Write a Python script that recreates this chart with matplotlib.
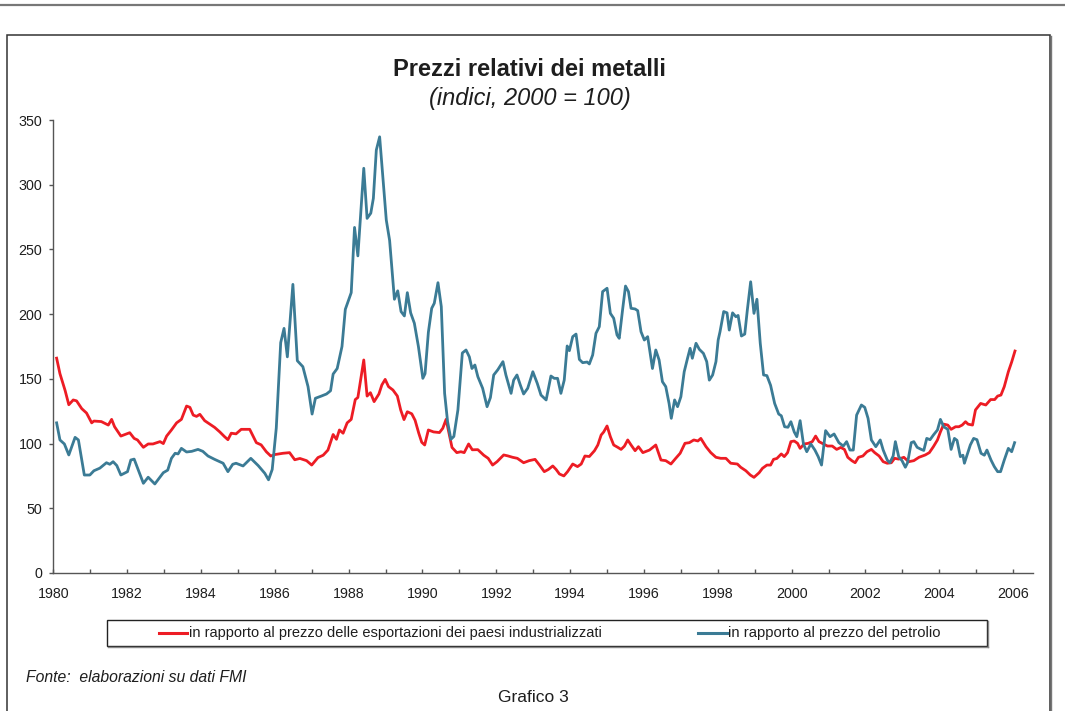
import matplotlib
matplotlib.use("Agg")
import matplotlib.pyplot as plt
from matplotlib.patches import Rectangle
from matplotlib.lines import Line2D
import numpy as np

# ---------------- data (decimal years, index 2000 = 100) ----------------
red_years = [1980.09, 1980.18, 1980.32, 1980.42, 1980.54, 1980.63, 1980.77, 1980.9, 1981.04, 1981.1,
             1981.3, 1981.49, 1981.58, 1981.66, 1981.83, 1982.07, 1982.19, 1982.28, 1982.44, 1982.57,
             1982.7, 1982.89, 1982.98, 1983.07, 1983.2, 1983.34, 1983.47, 1983.61, 1983.7, 1983.79,
             1983.88, 1983.97, 1984.1, 1984.24, 1984.37, 1984.51, 1984.64, 1984.73, 1984.82, 1984.95,
             1985.09, 1985.32, 1985.5, 1985.63, 1985.77, 1985.89, 1986.0, 1986.22, 1986.4, 1986.54,
             1986.68, 1986.86, 1987.0, 1987.17, 1987.31, 1987.44, 1987.58, 1987.67, 1987.75, 1987.85,
             1987.96, 1988.07, 1988.18, 1988.25, 1988.41, 1988.5, 1988.59, 1988.69, 1988.82, 1988.9,
             1988.99, 1989.08, 1989.2, 1989.32, 1989.41, 1989.5, 1989.59, 1989.71, 1989.8, 1989.9,
             1989.98, 1990.06, 1990.16, 1990.3, 1990.46, 1990.55, 1990.64, 1990.72, 1990.8, 1990.93,
             1991.04, 1991.13, 1991.25, 1991.35, 1991.5, 1991.66, 1991.78, 1991.9, 1992.02, 1992.2,
             1992.31, 1992.44, 1992.57, 1992.74, 1992.89, 1993.05, 1993.17, 1993.3, 1993.41, 1993.53,
             1993.62, 1993.71, 1993.83, 1993.93, 1994.07, 1994.2, 1994.3, 1994.4, 1994.52, 1994.66,
             1994.75, 1994.84, 1994.91, 1995.0, 1995.09, 1995.18, 1995.29, 1995.38, 1995.47, 1995.56,
             1995.65, 1995.76, 1995.85, 1995.97, 1996.15, 1996.32, 1996.46, 1996.59, 1996.73, 1996.86,
             1996.98, 1997.11, 1997.23, 1997.35, 1997.46, 1997.54, 1997.68, 1997.81, 1997.95, 1998.08,
             1998.22, 1998.35, 1998.53, 1998.62, 1998.76, 1998.88, 1998.98, 1999.12, 1999.21, 1999.33,
             1999.43, 1999.51, 1999.6, 1999.72, 1999.8, 1999.89, 1999.98, 2000.07, 2000.16, 2000.23,
             2000.34, 2000.45, 2000.56, 2000.65, 2000.74, 2000.86, 2000.97, 2001.1, 2001.22, 2001.33,
             2001.43, 2001.52, 2001.63, 2001.72, 2001.81, 2001.93, 2002.04, 2002.16, 2002.25, 2002.37,
             2002.48, 2002.59, 2002.7, 2002.79, 2002.9, 2003.04, 2003.17, 2003.31, 2003.45, 2003.62,
             2003.73, 2003.84, 2003.95, 2004.03, 2004.12, 2004.23, 2004.32, 2004.44, 2004.53, 2004.62,
             2004.71, 2004.78, 2004.9, 2004.98, 2005.12, 2005.26, 2005.39, 2005.5, 2005.58, 2005.67,
             2005.76, 2005.87, 2005.96, 2006.05]
red_values = [166, 154, 141, 130, 133.7, 133, 127, 123.6, 116, 117.4,
              117, 114.3, 118.7, 113, 105.8, 108.4, 104, 102.8, 97.1, 99.7,
              99.7, 101.5, 100, 105.8, 110.5, 116, 118.7, 129, 128, 122,
              121, 122.6, 117.7, 115, 112.5, 109, 105.3, 103, 108, 107.5,
              111, 111, 100.7, 99, 93.7, 90.4, 91.5, 92.5, 93, 87.5,
              88.5, 86.8, 83.4, 89.2, 91, 95, 107, 103.3, 110.5, 108,
              116, 118.7, 134, 135.6, 164.6, 136.7, 139.3, 132.4, 138.3, 145.3,
              149.6, 144, 141.4, 136.7, 126, 118.5, 124.6, 123, 118, 108,
              101, 98.9, 110.5, 109, 108.5, 111.8, 118.7, 108, 97, 93,
              93.7, 93, 99.7, 95.2, 95.3, 91, 88.6, 83.4, 86, 91.2,
              90.5, 89.4, 88.6, 85.2, 86.8, 87.8, 83.4, 78.3, 80, 82.7,
              80, 76.5, 75, 78.3, 84.2, 82.2, 84.2, 90.4, 90, 94.5,
              98.9, 106.6, 109, 113.6, 105.3, 98.9, 97.1, 95.5, 98, 102.8,
              98.9, 94.5, 97.6, 93, 95, 98.9, 87.3, 86.8, 84.2, 88.6,
              92.5, 100.2, 100.7, 102.8, 102, 104, 97.6, 93, 89.4, 88.6,
              88.6, 84.8, 84.2, 81.7, 79, 75.7, 73.9, 77.5, 80.9, 83.4,
              83.4, 87.8, 88.5, 92, 89.9, 93, 101.5, 102, 100.2, 96.3,
              99.7, 100.2, 101.5, 105.8, 101.5, 99.7, 98.1, 98.1, 95.5, 97,
              95.5, 89.4, 86.8, 85.2, 89.4, 90.4, 93.7, 95.5, 93, 90.4,
              86, 84.8, 85.2, 88.6, 88, 89.4, 86, 86.8, 89.4, 91.2,
              93, 97.6, 102.8, 109, 115, 114.3, 111, 113, 113, 114.3,
              116.9, 115, 114.3, 126, 131, 129.8, 134, 134, 136.7, 137.5,
              144, 155.5, 163, 171.5]

blue_years = [1980.09, 1980.18, 1980.3, 1980.42, 1980.59, 1980.68, 1980.84, 1980.99, 1981.1, 1981.26,
              1981.44, 1981.53, 1981.62, 1981.72, 1981.83, 1982.01, 1982.1, 1982.19, 1982.44, 1982.57,
              1982.75, 1982.98, 1983.1, 1983.2, 1983.3, 1983.38, 1983.47, 1983.61, 1983.75, 1983.92,
              1984.05, 1984.19, 1984.37, 1984.6, 1984.73, 1984.86, 1984.95, 1985.14, 1985.35, 1985.55,
              1985.73, 1985.83, 1985.93, 1986.04, 1986.16, 1986.25, 1986.34, 1986.49, 1986.61, 1986.76,
              1986.9, 1987.01, 1987.1, 1987.26, 1987.4, 1987.51, 1987.58, 1987.69, 1987.82, 1987.91,
              1988.07, 1988.16, 1988.25, 1988.41, 1988.5, 1988.6, 1988.67, 1988.75, 1988.84, 1989.02,
              1989.11, 1989.24, 1989.33, 1989.42, 1989.51, 1989.59, 1989.68, 1989.78, 1989.89, 1990.01,
              1990.07, 1990.16, 1990.25, 1990.32, 1990.42, 1990.51, 1990.6, 1990.68, 1990.77, 1990.85,
              1990.96, 1991.08, 1991.18, 1991.27, 1991.34, 1991.42, 1991.5, 1991.63, 1991.75, 1991.84,
              1991.93, 1992.04, 1992.18, 1992.26, 1992.4, 1992.47, 1992.56, 1992.65, 1992.74, 1992.85,
              1992.99, 1993.11, 1993.21, 1993.35, 1993.48, 1993.57, 1993.66, 1993.75, 1993.84, 1993.92,
              1993.98, 1994.07, 1994.16, 1994.25, 1994.34, 1994.46, 1994.52, 1994.61, 1994.7, 1994.79,
              1994.88, 1995.0, 1995.09, 1995.18, 1995.27, 1995.33, 1995.42, 1995.5, 1995.58, 1995.65,
              1995.76, 1995.83, 1995.92, 1996.01, 1996.1, 1996.23, 1996.32, 1996.41, 1996.5, 1996.59,
              1996.68, 1996.74, 1996.83, 1996.91, 1997.0, 1997.09, 1997.18, 1997.25, 1997.31, 1997.41,
              1997.5, 1997.61, 1997.7, 1997.77, 1997.86, 1997.95, 1998.01, 1998.06, 1998.16, 1998.25,
              1998.31, 1998.4, 1998.49, 1998.55, 1998.64, 1998.73, 1998.8, 1998.89, 1998.98, 1999.06,
              1999.15, 1999.24, 1999.33, 1999.43, 1999.54, 1999.65, 1999.72, 1999.81, 1999.9, 1999.98,
              2000.07, 2000.14, 2000.23, 2000.32, 2000.41, 2000.52, 2000.63, 2000.72, 2000.81, 2000.92,
              2001.04, 2001.15, 2001.28, 2001.4, 2001.49, 2001.58, 2001.67, 2001.76, 2001.89, 2001.98,
              2002.07, 2002.16, 2002.28, 2002.4, 2002.48, 2002.59, 2002.66, 2002.75, 2002.81, 2002.9,
              2002.99, 2003.08, 2003.14, 2003.24, 2003.31, 2003.4, 2003.51, 2003.58, 2003.66, 2003.75,
              2003.84, 2003.95, 2004.03, 2004.12, 2004.23, 2004.32, 2004.41, 2004.48, 2004.57, 2004.64,
              2004.68, 2004.84, 2004.93, 2005.02, 2005.13, 2005.22, 2005.29, 2005.4, 2005.49, 2005.58,
              2005.66, 2005.76, 2005.87, 2005.96, 2006.04]
blue_values = [116, 102.8, 99.7, 91.2, 104.8, 102.8, 75.7, 75.7, 79, 81,
               85.2, 84, 86, 83, 75.7, 78.3, 87.3, 88, 69.3, 74,
               68.8, 77.5, 79.5, 88.6, 92.5, 92, 96.3, 93.5, 94, 95.5,
               94, 90.4, 87.8, 84.8, 78.3, 84, 84.8, 82.7, 88.6, 83,
               77, 72, 80, 112, 178, 189, 167, 223, 164, 159.4,
               144, 122.8, 135, 136.7, 138.3, 140.8, 153.7, 158, 175, 203.7,
               216.6, 267, 245, 312.7, 274, 278, 289.5, 326.8, 337, 272.7,
               257, 211.5, 218, 202, 198.6, 216.6, 201, 193, 175, 150.4,
               154, 186, 204.5, 208.4, 224.3, 205.8, 138.8, 117, 103.3, 105.5,
               126, 170, 172.3, 167, 158, 160.7, 151.7, 142.7, 128.5, 135.5,
               153, 157, 163.3, 153, 138.8, 149, 153, 145.3, 138.3, 142.7,
               155.5, 146.5, 137.5, 133.7, 152.2, 150.4, 150.4, 138.8, 149, 175.4,
               171.8, 182.6, 184.6, 165, 162.5, 163, 161.5, 168.4, 185.2, 190.3,
               217.4, 220, 200.6, 196.8, 183.9, 181.3, 203.2, 221.7, 217.4, 204.5,
               204, 202.7, 186.4, 180, 182.6, 158, 172.3, 164.6, 147.8, 144,
               131, 119.5, 133.7, 128.5, 136.2, 155.5, 165.9, 173.6, 165.9, 177.5,
               172.8, 169.7, 163.3, 149, 153, 163.3, 180, 186.4, 202, 201,
               187.7, 201, 198, 199, 183.1, 184.6, 203.2, 225, 200.6, 211.5,
               177.5, 153, 152.5, 145, 131, 122.8, 121.5, 113, 112.6, 116.9,
               109, 105.3, 117.7, 99.7, 93.7, 99.7, 95, 89.9, 83.4, 110,
               105.3, 107.4, 100.7, 98.1, 101.5, 95, 95, 122, 129.8, 128,
               119.5, 102.8, 97.6, 102.8, 95, 87.3, 85.2, 90.4, 101.5, 89.9,
               86.8, 81.7, 85.2, 100.7, 101.5, 97.1, 95.5, 94.7, 104, 103,
               106.6, 110.5, 118.7, 113, 111, 95.5, 104, 102.5, 89.9, 91,
               84.8, 98.9, 104, 103, 92.5, 91, 95, 87.3, 82.2, 78.3,
               78.3, 87.3, 96.3, 93.7, 100.7]

x_tick_labels = ["1980", "1982", "1984", "1986", "1988", "1990", "1992", "1994",
                 "1996", "1998", "2000", "2002", "2004", "2006"]
y_ticks = [0, 50, 100, 150, 200, 250, 300, 350]

title = "Prezzi relativi dei metalli"
subtitle = "(indici, 2000 = 100)"
label_red = "in rapporto al prezzo delle esportazioni dei paesi industrializzati"
label_blue = "in rapporto al prezzo del petrolio"
source = "Fonte:  elaborazioni su dati FMI"
footer = "Grafico 3"

# ---------------- styling ----------------
plt.rcParams['font.family'] = ['Liberation Sans', 'DejaVu Sans']
RED = "#ED1C24"
BLUE = "#3B7B95"
TXT = "#1e1e1e"
W, H = 1065, 711
fig = plt.figure(figsize=(W / 100, H / 100), dpi=100)

def fx(px):
    return px / W

def fy(py):
    return 1 - py / H

ax = fig.add_axes([fx(53.3), fy(573), fx(1032.7) - fx(53.3), fy(120) - fy(573)])
ax.plot(red_years, red_values, color=RED, lw=2.0, solid_joinstyle='round')
ax.plot(blue_years, blue_values, color=BLUE, lw=2.0, solid_joinstyle='round')

ax.set_xlim(1980, 2006.53)
ax.set_ylim(0, 350)
ax.set_xticks([int(t) for t in x_tick_labels])
ax.set_xticklabels(x_tick_labels)
ax.set_xticks(np.arange(1981, 2007, 2), minor=True)
ax.set_yticks(y_ticks)
ax.set_yticklabels([str(v) for v in y_ticks])
for s in ("top", "right"):
    ax.spines[s].set_visible(False)
for s in ("left", "bottom"):
    ax.spines[s].set_color("#555555")
    ax.spines[s].set_linewidth(1.0)
ax.tick_params(axis="x", which="both", direction="in", length=3, width=1,
               color="#555555", labelsize=10.3, pad=10, labelcolor=TXT)
ax.tick_params(axis="y", which="both", direction="out", length=3, width=1,
               color="#555555", labelsize=10.3, pad=5, labelcolor=TXT)

# ---------------- figure decorations ----------------
fig.add_artist(Line2D([0, 1], [fy(5), fy(5)], color="#777777", lw=1.6))
fig.add_artist(Rectangle((fx(7), fy(740)), fx(1050) - fx(7), fy(35) - fy(740),
                         fill=False, edgecolor="#333333", lw=1.1))
fig.add_artist(Line2D([fx(1051), fx(1051)], [fy(36), 0], color="#777777", lw=1.0))

fig.text(fx(529), fy(69), title, ha="center", va="center",
         fontsize=17, fontweight="bold", color=TXT)
fig.text(fx(530), fy(98), subtitle, ha="center", va="center",
         fontsize=17, style="italic", color=TXT)

# legend box
fig.add_artist(Rectangle((fx(107), fy(646)), fx(987) - fx(107), fy(620) - fy(646),
                         fill=False, edgecolor="#222222", lw=1.0))
fig.add_artist(Line2D([fx(988), fx(988)], [fy(621), fy(647)], color="#888888", lw=1.0))
fig.add_artist(Line2D([fx(108), fx(988)], [fy(647), fy(647)], color="#888888", lw=1.0))
fig.add_artist(Line2D([fx(159), fx(187)], [fy(633), fy(633)], color=RED, lw=2.2))
fig.text(fx(189), fy(633), label_red, ha="left", va="center", fontsize=10.5, color=TXT)
fig.add_artist(Line2D([fx(698), fx(727)], [fy(633), fy(633)], color=BLUE, lw=2.2))
fig.text(fx(728), fy(633), label_blue, ha="left", va="center", fontsize=10.6, color=TXT)

fig.text(fx(26), fy(677), source, ha="left", va="center", fontsize=11.3,
         style="italic", color=TXT)
fig.text(fx(533), fy(697), footer, ha="center", va="center", fontsize=12.5, color=TXT)

fig.savefig("out.png", dpi=100)
